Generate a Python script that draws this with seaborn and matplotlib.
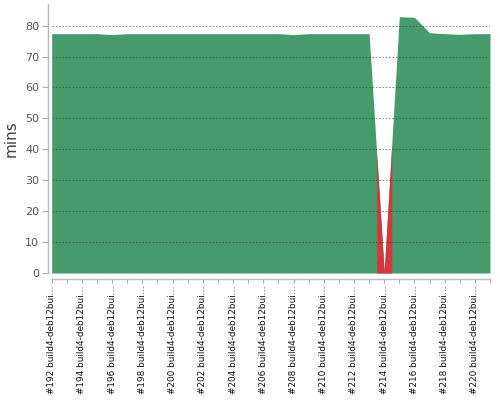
import numpy as np
import pandas as pd
import matplotlib
matplotlib.use("Agg")
import matplotlib.pyplot as plt
import seaborn as sns

# build numbers and durations (minutes)
builds = list(range(192, 222))
durations = [77.4, 77.4, 77.4, 77.4, 77.1, 77.4, 77.4, 77.4, 77.4, 77.4,
             77.4, 77.4, 77.4, 77.4, 77.4, 77.4, 77.1, 77.4, 77.4, 77.4,
             77.4, 77.4, 0.4, 82.9, 82.7, 77.7, 77.4, 77.2, 77.4, 77.4]
results = ["SUCCESS"] * 22 + ["FAILURE"] + ["SUCCESS"] * 7
tick_labels = [f"#{b} build4-deb12bui\u2026" for b in builds]

colors = {"SUCCESS": "#459b6c", "FAILURE": "#d5383c"}

df = pd.DataFrame({"build": builds, "mins": durations, "result": results})
df["pos"] = np.arange(len(df))

sns.set_theme(style="white")
plt.rcParams["font.family"] = ["DejaVu Sans"]

fig = plt.figure(figsize=(5, 4), dpi=100)
ax = fig.add_axes([0.1034, 0.3175, 0.8766, 0.6725])

# whole series as one area, then recolour the failed builds
ax.fill_between(df["pos"], 0, df["mins"], color=colors["SUCCESS"], linewidth=0, zorder=0.5)
for _, row in df[df["result"] != "SUCCESS"].iterrows():
    xs = np.linspace(max(row["pos"] - 0.5, 0), min(row["pos"] + 0.5, len(df) - 1), 21)
    ys = np.interp(xs, df["pos"], df["mins"])
    ax.fill_between(xs, 0, ys, color=colors[row["result"]], linewidth=0, zorder=0.6)

ax.set_xlim(0, len(df) - 1)
ax.set_ylim(0, 87)
ax.set_yticks(range(0, 90, 10))

ax.tick_params(axis="y", labelsize=8, labelcolor="#555555", color="#aaaaaa",
               length=4, width=0.8, direction="out", left=True, pad=2)
ax.tick_params(axis="x", length=3, width=0.8, color="#aaaaaa", direction="out",
               bottom=True, pad=2, labelrotation=90, labelsize=6.4,
               labelcolor="#111111")
ax.set_xticks(df["pos"].tolist())
ax.set_xticklabels([lab if i % 2 == 0 else "" for i, lab in enumerate(tick_labels)],
                   rotation=90, fontsize=6.4)

ax.yaxis.grid(True, color="#444444", alpha=0.6, linestyle=(0, (1.5, 1.5)), linewidth=0.8)
ax.set_axisbelow(False)

sns.despine(ax=ax)
ax.spines["left"].set_position(("outward", 3))
ax.spines["bottom"].set_position(("outward", 4))
for side in ["left", "bottom"]:
    ax.spines[side].set_color("#bbbbbb")
    ax.spines[side].set_linewidth(1)

ax.set_xlabel("")
ax.set_ylabel("mins", fontsize=11, color="#444444", labelpad=5)

fig.savefig("out.png", dpi=100)
